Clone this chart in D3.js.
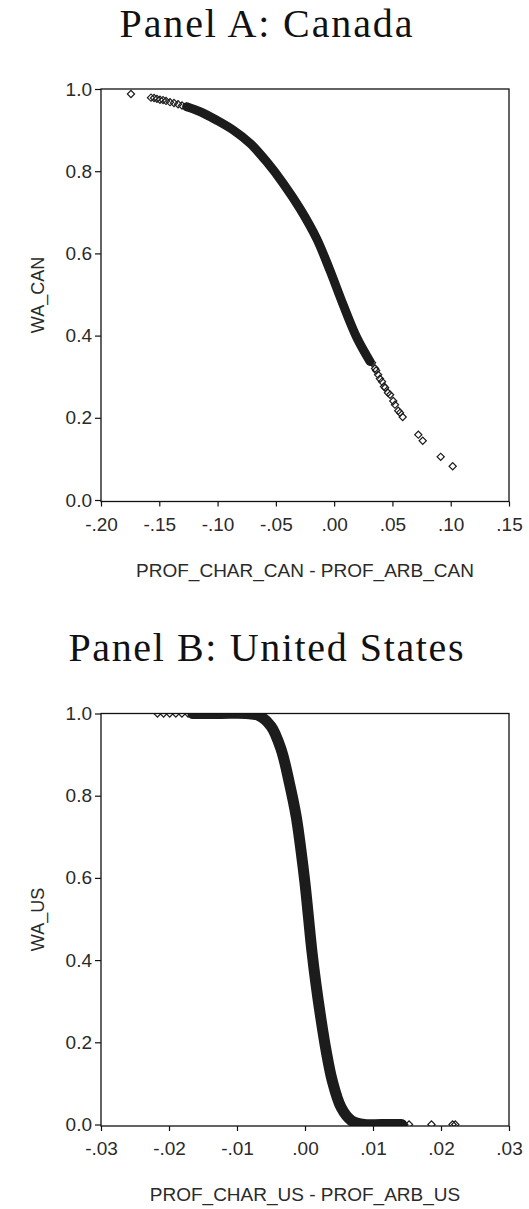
<!DOCTYPE html>
<html>
<head>
<meta charset="utf-8">
<script src="https://cdn.jsdelivr.net/npm/d3@7"></script>
<style>
  body { margin: 0; background: #fff; }
  svg { display: block; }
</style>
</head>
<body>
<div id="chart"></div>
<script>
// Panel A: Canada -- solid run of overlapping points (centre line) and loose points
var canBandX = [-0.1265, -0.1151, -0.1007, -0.0865, -0.0722, -0.0579, -0.0436, -0.0293, -0.0150, -0.0035, 0.0076, 0.0193, 0.0308];
var canBandY = [0.957, 0.945, 0.924, 0.900, 0.868, 0.823, 0.770, 0.709, 0.636, 0.558, 0.476, 0.396, 0.337];
var canDotX = [-0.1743, -0.1571, -0.1545, -0.1520, -0.1494, -0.1468, -0.1442, -0.1408, -0.1374, -0.1339, -0.1305,
  0.0325, 0.0351, 0.0360, 0.0377, 0.0393, 0.0411, 0.0428, 0.0437, 0.0462, 0.0480, 0.0507, 0.0522, 0.0550, 0.0565, 0.0588,
  0.0722, 0.0760, 0.0914, 0.1017];
var canDotY = [0.988, 0.979, 0.978, 0.976, 0.974, 0.973, 0.971, 0.968, 0.966, 0.963, 0.960,
  0.334, 0.320, 0.315, 0.305, 0.295, 0.288, 0.276, 0.273, 0.261, 0.256, 0.241, 0.232, 0.217, 0.212, 0.202,
  0.159, 0.144, 0.105, 0.082];
var canXTicks = [-0.20, -0.15, -0.10, -0.05, 0.00, 0.05, 0.10, 0.15];

// Panel B: United States
var usBandX = [-0.0165, -0.0124, -0.0087, -0.0068, -0.0050, -0.0035, -0.0023, -0.0013, -0.0006, 0.0000, 0.0005, 0.0010, 0.0016, 0.0023, 0.0031, 0.0040, 0.0053, 0.0068, 0.0087, 0.0112, 0.0142];
var usBandY = [1.000, 1.000, 1.000, 0.995, 0.969, 0.912, 0.831, 0.750, 0.668, 0.587, 0.506, 0.424, 0.343, 0.262, 0.180, 0.107, 0.042, 0.010, 0.000, 0.000, 0.000];
var usDotX = [-0.0217, -0.0208, -0.0199, -0.0190, -0.0181, -0.0172, 0.0146, 0.0153, 0.0186, 0.0217, 0.0221];
var usDotY = [1.0, 1.0, 1.0, 1.0, 1.0, 1.0, 0.0, 0.0, 0.0, 0.0, 0.0];
var usXTicks = [-0.03, -0.02, -0.01, 0.00, 0.01, 0.02, 0.03];

var yTicks = [0.0, 0.2, 0.4, 0.6, 0.8, 1.0];

var width = 529, height = 1209;

var svg = d3.select("#chart")
  .append("svg")
  .attr("width", width)
  .attr("height", height);

function zip(xs, ys) {
  return xs.map(function(x, i) { return [x, ys[i]]; });
}

// "-0.20" -> "-.20", plain hyphen like the original
function fmtX(v) {
  return d3.format(".2f")(v).replace("\u2212", "-").replace("0.", ".");
}

function drawPanel(opt) {
  var x = d3.scaleLinear().domain(opt.xDomain).range([101, 509]);
  var y = d3.scaleLinear().domain([0, 1]).range([opt.top + 411, opt.top]);
  var bottom = opt.top + 412.5;

  svg.append("text")
    .attr("x", 266)
    .attr("y", opt.titleY)
    .attr("text-anchor", "middle")
    .attr("font-family", "'Liberation Serif', 'Times New Roman', serif")
    .attr("font-size", "40px")
    .attr("textLength", opt.titleLen)
    .attr("lengthAdjust", "spacing")
    .attr("fill", "#111")
    .text(opt.title);

  var clipId = "clip-" + opt.key;
  svg.append("clipPath")
    .attr("id", clipId)
    .append("rect")
    .attr("x", 101)
    .attr("y", opt.top)
    .attr("width", 408)
    .attr("height", bottom - opt.top);

  var g = svg.append("g").attr("clip-path", "url(#" + clipId + ")");

  var line = d3.line()
    .x(function(d) { return x(d[0]); })
    .y(function(d) { return y(d[1]); })
    .curve(d3.curveCatmullRom);

  var band = zip(opt.bandX, opt.bandY);
  g.append("path")
    .datum(band)
    .attr("d", line)
    .attr("fill", "none")
    .attr("stroke", "#1c1c1c")
    .attr("stroke-width", opt.bandWidth)
    .attr("stroke-linecap", "round")
    .attr("stroke-linejoin", "round");

  var diamond = d3.symbol().type(d3.symbolSquare).size(26);
  var dots = band.concat(zip(opt.dotX, opt.dotY));
  g.selectAll(".pt")
    .data(dots)
    .enter()
    .append("path")
    .attr("class", "pt")
    .attr("d", diamond)
    .attr("transform", function(d) {
      return "translate(" + x(d[0]) + "," + y(d[1]) + ") rotate(45)";
    })
    .attr("fill", "none")
    .attr("stroke", "#1c1c1c")
    .attr("stroke-width", 1.2);

  // frame
  svg.append("rect")
    .attr("x", 101)
    .attr("y", opt.top)
    .attr("width", 408)
    .attr("height", bottom - opt.top)
    .attr("fill", "none")
    .attr("stroke", "#111")
    .attr("stroke-width", 1.3);

  var yAxis = svg.append("g")
    .attr("transform", "translate(101,0)")
    .call(d3.axisLeft(y).tickValues(yTicks).tickFormat(d3.format(".1f")).tickSize(6).tickPadding(3).tickSizeOuter(0));

  var xAxis = svg.append("g")
    .attr("transform", "translate(0," + bottom + ")")
    .call(d3.axisBottom(x).tickValues(opt.xTicks).tickFormat(fmtX).tickSize(5).tickPadding(11).tickSizeOuter(0));

  [yAxis, xAxis].forEach(function(a) {
    a.select(".domain").remove();
    a.selectAll("line").attr("stroke", "#111").attr("stroke-width", 1.2);
    a.selectAll("text")
      .attr("font-family", "'Liberation Sans', Arial, sans-serif")
      .attr("font-size", "19px")
      .attr("fill", "#2a2a2a");
  });

  svg.append("text")
    .attr("transform", "translate(44," + (opt.top + 206) + ") rotate(-90)")
    .attr("text-anchor", "middle")
    .attr("font-family", "'Liberation Sans', Arial, sans-serif")
    .attr("font-size", "18px")
    .attr("fill", "#2a2a2a")
    .text(opt.yLabel);

  svg.append("text")
    .attr("x", 305)
    .attr("y", bottom + 75)
    .attr("text-anchor", "middle")
    .attr("font-family", "'Liberation Sans', Arial, sans-serif")
    .attr("font-size", "19px")
    .attr("fill", "#2a2a2a")
    .text(opt.xLabel);
}

drawPanel({
  key: "can",
  title: "Panel A: Canada",
  titleY: 37,
  titleLen: 293,
  top: 89,
  xDomain: [-0.20, 0.15],
  xTicks: canXTicks,
  bandX: canBandX,
  bandY: canBandY,
  bandWidth: 9,
  dotX: canDotX,
  dotY: canDotY,
  yLabel: "WA_CAN",
  xLabel: "PROF_CHAR_CAN - PROF_ARB_CAN"
});

drawPanel({
  key: "us",
  title: "Panel B: United States",
  titleY: 661,
  titleLen: 395,
  top: 713.5,
  xDomain: [-0.03, 0.03],
  xTicks: usXTicks,
  bandX: usBandX,
  bandY: usBandY,
  bandWidth: 11,
  dotX: usDotX,
  dotY: usDotY,
  yLabel: "WA_US",
  xLabel: "PROF_CHAR_US - PROF_ARB_US"
});
</script>
</body>
</html>
